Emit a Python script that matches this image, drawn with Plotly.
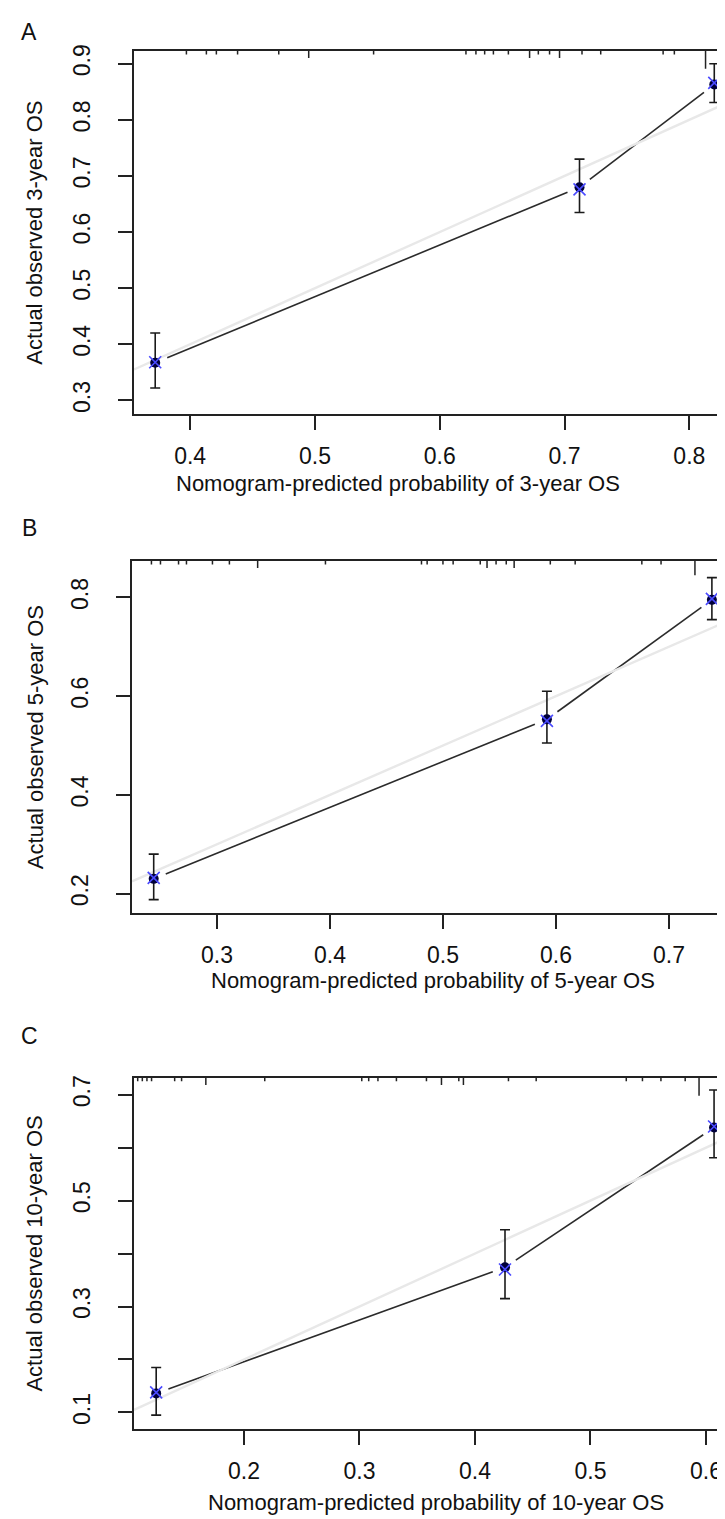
import plotly.graph_objects as go

W, H = 725, 1519

# ---------------- data ----------------
# Panel A: 3-year OS
a_pred = [0.372, 0.712, 0.820]
a_obs = [0.367, 0.680, 0.863]
a_lo = [0.322, 0.635, 0.831]
a_hi = [0.420, 0.730, 0.900]
a_bc_obs = [0.368, 0.676, 0.866]
a_rug_x = [0.397, 0.413, 0.421, 0.438, 0.471, 0.495, 0.547, 0.621, 0.629, 0.636, 0.643,
           0.655, 0.672, 0.679, 0.688, 0.696, 0.714, 0.729, 0.779, 0.788, 0.813]
a_rug_n = [1, 1, 1, 1, 1, 2, 1, 1, 1, 1, 1, 1, 2, 1, 1, 2, 1, 1, 1, 1, 5]
a_xticks = [0.4, 0.5, 0.6, 0.7, 0.8]
a_yticks = [0.3, 0.4, 0.5, 0.6, 0.7, 0.8, 0.9]
a_ylabels = ["0.3", "0.4", "0.5", "0.6", "0.7", "0.8", "0.9"]

# Panel B: 5-year OS
b_pred = [0.244, 0.592, 0.738]
b_obs = [0.230, 0.553, 0.795]
b_lo = [0.188, 0.505, 0.755]
b_hi = [0.280, 0.610, 0.840]
b_bc_obs = [0.232, 0.550, 0.797]
b_rug_x = [0.242, 0.250, 0.266, 0.273, 0.296, 0.311, 0.336, 0.396, 0.481, 0.486, 0.500,
           0.509, 0.533, 0.539, 0.547, 0.556, 0.563, 0.595, 0.617, 0.676, 0.693, 0.723]
b_rug_n = [1, 1, 1, 1, 1, 1, 2, 1, 1, 1, 1, 1, 1, 2, 1, 1, 2, 1, 1, 1, 1, 4]
b_xticks = [0.3, 0.4, 0.5, 0.6, 0.7]
b_yticks = [0.2, 0.4, 0.6, 0.8]
b_ylabels = ["0.2", "0.4", "0.6", "0.8"]

# Panel C: 10-year OS
c_pred = [0.124, 0.426, 0.607]
c_obs = [0.136, 0.374, 0.638]
c_lo = [0.095, 0.315, 0.581]
c_hi = [0.185, 0.445, 0.709]
c_bc_obs = [0.138, 0.370, 0.640]
c_rug_x = [0.108, 0.112, 0.116, 0.120, 0.140, 0.146, 0.167, 0.218, 0.302, 0.308, 0.316, 0.332,
           0.358, 0.371, 0.386, 0.390, 0.429, 0.453, 0.531, 0.545, 0.561, 0.582, 0.594]
c_rug_n = [1, 1, 1, 1, 1, 1, 2, 1, 1, 1, 1, 1, 1, 2, 1, 2, 1, 1, 1, 1, 1, 1, 5]
c_xticks = [0.2, 0.3, 0.4, 0.5, 0.6]
c_yticks = [0.1, 0.2, 0.3, 0.4, 0.5, 0.6, 0.7]
c_ylabels = ["0.1", "", "0.3", "", "0.5", "", "0.7"]

panels = [
    dict(letter="A", pred=a_pred, obs=a_obs, lo=a_lo, hi=a_hi, bc=a_bc_obs,
         rx=a_rug_x, rn=a_rug_n, xt=a_xticks, yt=a_yticks, yl=a_ylabels,
         xtitle="Nomogram-predicted probability of 3-year OS",
         ytitle="Actual observed 3-year OS",
         left=126, right=725, top=37, bottom=402,
         xr=[0.355, 0.835], yr=[0.275, 0.923], rbox=False,
         letter_y=18, xtitle_x=390, xtitle_y=471),
    dict(letter="B", pred=b_pred, obs=b_obs, lo=b_lo, hi=b_hi, bc=b_bc_obs,
         rx=b_rug_x, rn=b_rug_n, xt=b_xticks, yt=b_yticks, yl=b_ylabels,
         xtitle="Nomogram-predicted probability of 5-year OS",
         ytitle="Actual observed 5-year OS",
         left=124, right=717, top=549, bottom=903,
         xr=[0.2248, 0.7496], yr=[0.160, 0.874], rbox=True,
         letter_y=516, xtitle_x=425, xtitle_y=970),
    dict(letter="C", pred=c_pred, obs=c_obs, lo=c_lo, hi=c_hi, bc=c_bc_obs,
         rx=c_rug_x, rn=c_rug_n, xt=c_xticks, yt=c_yticks, yl=c_ylabels,
         xtitle="Nomogram-predicted probability of 10-year OS",
         ytitle="Actual observed 10-year OS",
         left=126, right=725, top=1068, bottom=1421,
         xr=[0.1048, 0.6234], yr=[0.068, 0.732], rbox=False,
         letter_y=1026, xtitle_x=428, xtitle_y=1494),
]

FONT = "Liberation Sans, Arial, sans-serif"
FS_TICK = 23
FS_LAB = 22
fig = go.Figure()
annotations = []

for i, p in enumerate(panels):
    k = "" if i == 0 else str(i + 1)
    xa, ya = "x" + k, "y" + k
    ppx = (p["right"] - p["left"]) / (p["xr"][1] - p["xr"][0])
    ppy = (p["bottom"] - p["top"]) / (p["yr"][1] - p["yr"][0])

    # calibration line with gaps near points (type = "b")
    gap = 13.0
    lx, ly = [], []
    for j in range(len(p["pred"]) - 1):
        x0, y0 = p["pred"][j], p["obs"][j]
        x1, y1 = p["pred"][j + 1], p["obs"][j + 1]
        L = (((x1 - x0) * ppx) ** 2 + ((y1 - y0) * ppy) ** 2) ** 0.5
        f = gap / L
        lx += [x0 + f * (x1 - x0), x1 - f * (x1 - x0), None]
        ly += [y0 + f * (y1 - y0), y1 - f * (y1 - y0), None]
    fig.add_trace(go.Scatter(x=lx, y=ly, mode="lines", xaxis=xa, yaxis=ya,
                             line=dict(color="#2b2b2b", width=1.6), showlegend=False,
                             hoverinfo="skip"))
    # ideal line
    fig.add_trace(go.Scatter(x=p["xr"], y=p["xr"], mode="lines", xaxis=xa, yaxis=ya,
                             line=dict(color="#e8e8e8", width=2.4), showlegend=False,
                             hoverinfo="skip"))
    # rug of predicted risk distribution along the top
    rx, ry = [], []
    for xv, n in zip(p["rx"], p["rn"]):
        rx += [xv, xv, None]
        ry += [p["yr"][1], p["yr"][1] - n * 3.6 / ppy, None]
    fig.add_trace(go.Scatter(x=rx, y=ry, mode="lines", xaxis=xa, yaxis=ya,
                             line=dict(color="#222222", width=1.5), showlegend=False,
                             hoverinfo="skip"))
    # apparent points with CI
    fig.add_trace(go.Scatter(
        x=p["pred"], y=p["obs"], mode="markers", xaxis=xa, yaxis=ya,
        marker=dict(symbol="circle", size=10, color="#00003a"),
        error_y=dict(type="data", symmetric=False,
                     array=[h - o for h, o in zip(p["hi"], p["obs"])],
                     arrayminus=[o - l for o, l in zip(p["obs"], p["lo"])],
                     color="#1a1a1a", thickness=1.6, width=5),
        showlegend=False))
    # bias-corrected
    fig.add_trace(go.Scatter(
        x=p["pred"], y=p["bc"], mode="markers", xaxis=xa, yaxis=ya,
        marker=dict(symbol="x-thin-open", size=12, color="#4a4aff",
                    line=dict(color="#4a4aff", width=1.6)),
        showlegend=False))

    xdom = [p["left"] / W, p["right"] / W]
    ydom = [1 - p["bottom"] / H, 1 - p["top"] / H]
    fig.layout["xaxis" + k] = dict(
        domain=xdom, range=p["xr"], anchor=ya, tickvals=p["xt"],
        ticktext=[f"{v:.1f}" for v in p["xt"]],
        ticks="outside", ticklen=14, tickwidth=1.5, tickcolor="#222",
        ticklabelstandoff=6,
        showline=True, linecolor="#222", linewidth=1.6, mirror=True,
        showgrid=False, zeroline=False,
        tickfont=dict(family=FONT, size=FS_TICK, color="#111"))
    fig.layout["yaxis" + k] = dict(
        domain=ydom, range=p["yr"], anchor=xa, tickvals=p["yt"], ticktext=p["yl"],
        ticks="outside", ticklen=14, tickwidth=1.5, tickcolor="#222", tickangle=-90,
        ticklabelstandoff=19,
        showline=True, linecolor="#222", linewidth=1.6, mirror=p["rbox"],
        showgrid=False, zeroline=False,
        tickfont=dict(family=FONT, size=FS_TICK, color="#111"))

    annotations.append(dict(text=p["letter"], x=21 / W, y=1 - p["letter_y"] / H,
                            xref="paper", yref="paper", showarrow=False,
                            xanchor="center", yanchor="middle",
                            font=dict(family=FONT, size=FS_TICK, color="#111")))
    annotations.append(dict(text=p["xtitle"], x=p["xtitle_x"] / W, y=1 - p["xtitle_y"] / H,
                            xref="paper", yref="paper", showarrow=False,
                            xanchor="center", yanchor="middle",
                            font=dict(family=FONT, size=FS_LAB, color="#111")))
    annotations.append(dict(text=p["ytitle"], x=27 / W,
                            y=1 - (p["top"] + p["bottom"]) / 2 / H,
                            xref="paper", yref="paper", showarrow=False, textangle=-90,
                            xanchor="center", yanchor="middle",
                            font=dict(family=FONT, size=FS_LAB, color="#111")))

fig.update_layout(width=W, height=H, margin=dict(l=0, r=0, t=0, b=0),
                  paper_bgcolor="white", plot_bgcolor="white",
                  annotations=annotations, showlegend=False)

fig.write_html("out.html")
